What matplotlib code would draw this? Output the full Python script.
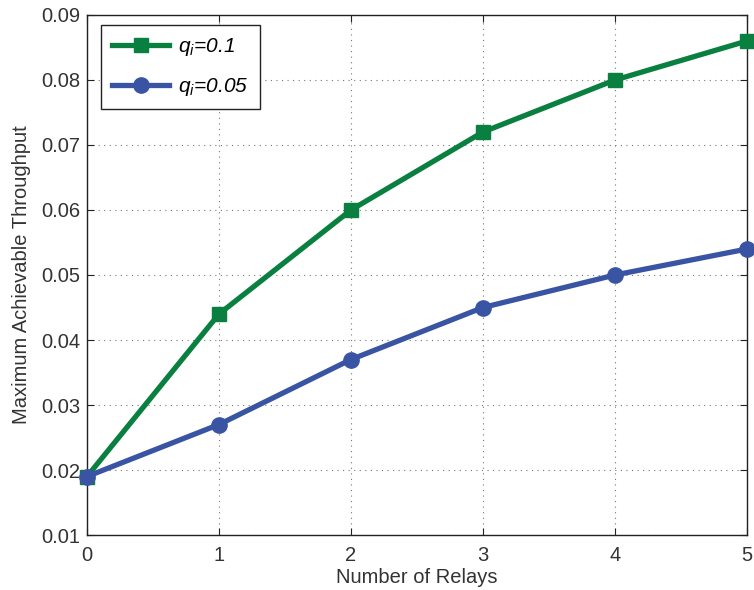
import numpy as np
import matplotlib
matplotlib.use('Agg')
import matplotlib.pyplot as plt

relays = [0, 1, 2, 3, 4, 5]
thr_q01 = [0.019, 0.044, 0.060, 0.072, 0.080, 0.086]
thr_q005 = [0.019, 0.027, 0.037, 0.045, 0.050, 0.054]
labels = [r'$q_i$=0.1', r'$q_i$=0.05']

plt.rcParams['font.family'] = ['Liberation Sans', 'DejaVu Sans']
plt.rcParams['mathtext.fontset'] = 'custom'
plt.rcParams['mathtext.it'] = 'Liberation Sans:italic'
plt.rcParams['mathtext.rm'] = 'Liberation Sans:italic'

green = '#0a8040'
blue = '#3a54a4'

fig = plt.figure(figsize=(7.54, 5.9), dpi=100)
ax = fig.add_axes([0.1154, 0.0932, 0.8753, 0.8814])

ax.plot(relays, thr_q01, color=green, lw=3.8, marker='s', ms=10, label=labels[0], clip_on=False, zorder=3)
ax.plot(relays, thr_q005, color=blue, lw=3.8, marker='o', ms=11, label=labels[1], clip_on=False, zorder=4)

ax.set_xlim(0, 5)
ax.set_ylim(0.01, 0.09)
ax.set_xticks(relays)
ax.set_yticks(np.arange(0.01, 0.0901, 0.01))
ax.set_yticklabels(['%.2f' % v for v in np.arange(0.01, 0.0901, 0.01)])
ax.tick_params(direction='in', labelsize=14.5, length=5, top=True, right=True, colors='#222222', labelcolor='#333333')
ax.tick_params(axis='x', pad=8)
ax.tick_params(axis='y', pad=5)
ax.grid(True, linestyle=(0, (1, 4)), color='#777777', lw=0.8)
for s in ax.spines.values():
    s.set_color('#222222')
    s.set_linewidth(1.0)
    s.set_zorder(2.5)

ax.set_xlabel('Number of Relays', fontsize=14.5, color='#333333', labelpad=2)
ax.set_ylabel('Maximum Achievable Throughput', fontsize=14.5, color='#333333', labelpad=7)

leg = ax.legend(loc='upper left', prop={'size': 15, 'style': 'italic'}, fancybox=False,
                edgecolor='#222222', framealpha=1, borderpad=0.55, handlelength=2.7,
                handletextpad=0.45, labelspacing=0.85, borderaxespad=0,
                bbox_to_anchor=(0.0212, 0.981))
leg.get_frame().set_linewidth(1.0)
leg.set_zorder(5)

fig.savefig('out.png', dpi=100)
